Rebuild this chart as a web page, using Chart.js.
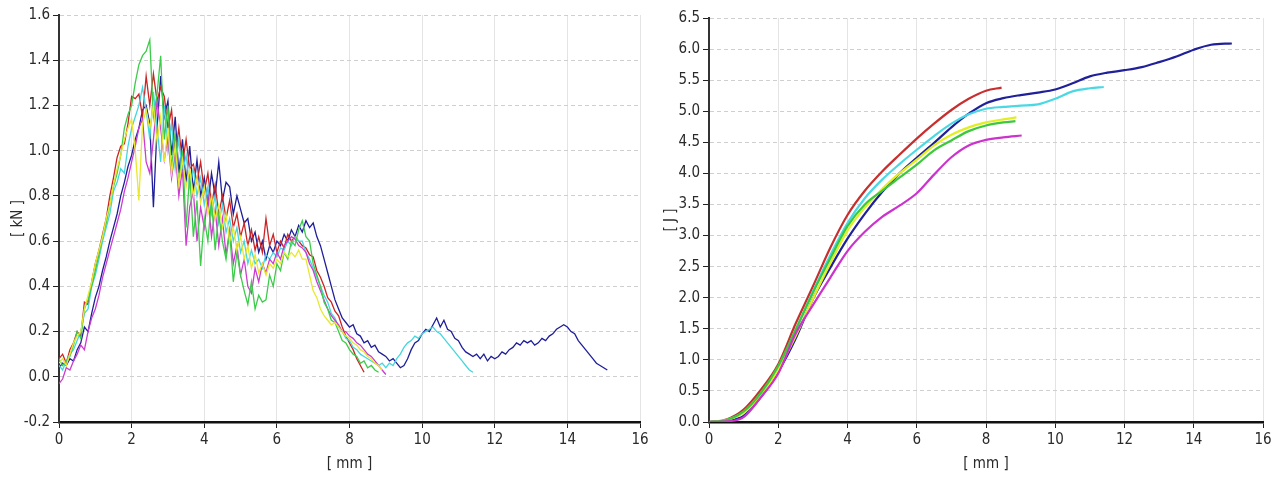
<!DOCTYPE html>
<html>
<head>
<meta charset="utf-8">
<script src="https://cdn.jsdelivr.net/npm/chart.js@4.4.1/dist/chart.umd.min.js"></script>
<style>
  html, body { margin: 0; padding: 0; background: #fff; }
  #wrap { position: relative; width: 1286px; height: 482px; }
  canvas { position: absolute; top: 0; }
  #force { left: 0; }
  #energy { left: 645px; }
</style>
</head>
<body>
<div id="wrap">
  <canvas id="force" width="652" height="482"></canvas>
  <canvas id="energy" width="641" height="482"></canvas>
</div>
<script>
// ---- force / displacement, one reading every 0.1 mm ----
const displacement = [
  0.0, 0.1, 0.2, 0.3, 0.4, 0.5, 0.6, 0.7, 0.8, 0.9,
  1.0, 1.1, 1.2, 1.3, 1.4, 1.5, 1.6, 1.7, 1.8, 1.9,
  2.0, 2.1, 2.2, 2.3, 2.4, 2.5, 2.6, 2.7, 2.8, 2.9,
  3.0, 3.1, 3.2, 3.3, 3.4, 3.5, 3.6, 3.7, 3.8, 3.9,
  4.0, 4.1, 4.2, 4.3, 4.4, 4.5, 4.6, 4.7, 4.8, 4.9,
  5.0, 5.1, 5.2, 5.3, 5.4, 5.5, 5.6, 5.7, 5.8, 5.9,
  6.0, 6.1, 6.2, 6.3, 6.4, 6.5, 6.6, 6.7, 6.8, 6.9,
  7.0, 7.1, 7.2, 7.3, 7.4, 7.5, 7.6, 7.7, 7.8, 7.9,
  8.0, 8.1, 8.2, 8.3, 8.4, 8.5, 8.6, 8.7, 8.8, 8.9,
  9.0, 9.1, 9.2, 9.3, 9.4, 9.5, 9.6, 9.7, 9.8, 9.9,
  10.0, 10.1, 10.2, 10.3, 10.4, 10.5, 10.6, 10.7, 10.8, 10.9,
  11.0, 11.1, 11.2, 11.3, 11.4, 11.5, 11.6, 11.7, 11.8, 11.9,
  12.0, 12.1, 12.2, 12.3, 12.4, 12.5, 12.6, 12.7, 12.8, 12.9,
  13.0, 13.1, 13.2, 13.3, 13.4, 13.5, 13.6, 13.7, 13.8, 13.9,
  14.0, 14.1, 14.2, 14.3, 14.4, 14.5, 14.6, 14.7, 14.8, 14.9,
  15.0, 15.1
];

const forceNavy = [
  0.04, 0.06, 0.05, 0.08, 0.07, 0.12, 0.15, 0.22, 0.20, 0.28,
  0.35, 0.40, 0.47, 0.53, 0.60, 0.66, 0.72, 0.80, 0.86, 0.93,
  0.98, 1.05, 1.10, 1.18, 1.20, 1.12, 0.75, 1.10, 1.33, 1.15,
  1.22, 0.98, 1.15, 0.90, 1.05, 0.86, 1.02, 0.82, 0.96, 0.80,
  0.88, 0.76, 0.90, 0.80, 0.95, 0.78, 0.86, 0.84, 0.72, 0.80,
  0.74, 0.68, 0.70, 0.60, 0.64, 0.55, 0.60, 0.52, 0.58, 0.55,
  0.60, 0.58, 0.63, 0.60, 0.65, 0.62, 0.67, 0.64, 0.69, 0.66,
  0.68, 0.62, 0.58, 0.52, 0.46, 0.40, 0.34, 0.30, 0.26, 0.24,
  0.22, 0.23, 0.19, 0.18, 0.15, 0.16, 0.13, 0.14, 0.11, 0.10,
  0.09, 0.07, 0.08, 0.06, 0.04, 0.05, 0.08, 0.12, 0.15, 0.16,
  0.19, 0.21, 0.20, 0.23, 0.26, 0.22, 0.25, 0.21, 0.20, 0.17,
  0.16, 0.13, 0.11, 0.10, 0.09, 0.10, 0.08, 0.10, 0.07, 0.09,
  0.08, 0.09, 0.11, 0.10, 0.12, 0.13, 0.15, 0.14, 0.16, 0.15,
  0.16, 0.14, 0.15, 0.17, 0.16, 0.18, 0.19, 0.21, 0.22, 0.23,
  0.22, 0.20, 0.19, 0.16, 0.14, 0.12, 0.10, 0.08, 0.06, 0.05,
  0.04, 0.03
];

const forceCyan = [
  0.05, 0.03, 0.07, 0.10, 0.12, 0.16, 0.20, 0.28, 0.30, 0.40,
  0.45, 0.52, 0.60, 0.66, 0.72, 0.82, 0.86, 0.92, 0.90, 1.02,
  1.10, 1.15, 1.20, 1.28, 1.18, 1.05, 1.26, 1.10, 0.95, 1.20,
  1.00, 1.12, 0.92, 1.05, 0.90, 0.98, 0.84, 0.92, 0.80, 0.88,
  0.76, 0.84, 0.72, 0.80, 0.68, 0.76, 0.64, 0.70, 0.60, 0.66,
  0.55, 0.60, 0.50, 0.56, 0.50, 0.52, 0.48, 0.54, 0.52, 0.55,
  0.53, 0.57, 0.56, 0.60, 0.58, 0.62, 0.60, 0.60, 0.55, 0.52,
  0.48, 0.44, 0.40, 0.36, 0.33, 0.28, 0.26, 0.22, 0.20, 0.17,
  0.16, 0.13, 0.12, 0.10, 0.09, 0.08, 0.07, 0.06, 0.05, 0.06,
  0.04, 0.06, 0.05, 0.08, 0.10, 0.13, 0.15, 0.16, 0.18, 0.17,
  0.19, 0.20, 0.21, 0.22, 0.20, 0.19, 0.17, 0.15, 0.13, 0.11,
  0.09, 0.07, 0.05, 0.03, 0.02
];

const forceRed = [
  0.08, 0.10, 0.06, 0.12, 0.15, 0.20, 0.18, 0.33, 0.32, 0.42,
  0.50, 0.56, 0.63, 0.70, 0.80, 0.88, 0.97, 1.02, 1.03, 1.12,
  1.24, 1.23, 1.25, 1.15, 1.33, 1.20, 1.34, 1.22, 1.28, 1.24,
  1.10, 1.18, 0.98, 1.10, 0.94, 1.05, 0.92, 0.94, 0.86, 0.95,
  0.82, 0.90, 0.76, 0.85, 0.72, 0.80, 0.70, 0.78, 0.66, 0.72,
  0.62, 0.68, 0.58, 0.65, 0.56, 0.62, 0.55, 0.70, 0.58, 0.63,
  0.55, 0.60, 0.57, 0.63, 0.60, 0.62, 0.60, 0.58, 0.57, 0.54,
  0.53, 0.47, 0.44, 0.40, 0.35, 0.33, 0.29, 0.27, 0.22, 0.18,
  0.15, 0.12, 0.08, 0.05, 0.02
];

const forceGreen = [
  0.08, 0.05, 0.07, 0.09, 0.14, 0.20, 0.17, 0.30, 0.34, 0.40,
  0.47, 0.54, 0.62, 0.68, 0.76, 0.84, 0.90, 0.98, 1.10, 1.16,
  1.20, 1.30, 1.38, 1.42, 1.44, 1.49, 1.15, 1.25, 1.42, 1.05,
  1.20, 0.92, 1.08, 0.85, 1.00, 0.66, 0.90, 0.62, 0.78, 0.49,
  0.70, 0.60, 0.78, 0.56, 0.72, 0.60, 0.52, 0.64, 0.42, 0.55,
  0.45, 0.38, 0.32, 0.42, 0.30, 0.36, 0.33, 0.34, 0.45, 0.40,
  0.50, 0.47, 0.55, 0.52, 0.60, 0.58, 0.65, 0.69, 0.62, 0.60,
  0.50, 0.45, 0.40, 0.33, 0.30, 0.25, 0.24, 0.20, 0.16, 0.15,
  0.12, 0.10, 0.09, 0.06, 0.07, 0.04, 0.05, 0.03, 0.02
];

const forceYellow = [
  0.06, 0.08, 0.05, 0.10, 0.15, 0.18, 0.20, 0.30, 0.36, 0.42,
  0.50, 0.56, 0.62, 0.70, 0.76, 0.85, 0.92, 0.98, 1.05, 1.10,
  1.14, 1.00, 0.78, 1.12, 1.18, 1.10, 1.20, 1.04, 1.15, 0.95,
  1.10, 0.90, 1.02, 0.85, 0.96, 0.84, 0.92, 0.80, 0.88, 0.77,
  0.84, 0.72, 0.80, 0.70, 0.76, 0.66, 0.72, 0.60, 0.66, 0.56,
  0.62, 0.52, 0.58, 0.48, 0.54, 0.46, 0.50, 0.45, 0.50, 0.48,
  0.52, 0.50, 0.55, 0.53, 0.55, 0.53, 0.56, 0.52, 0.52, 0.45,
  0.38, 0.35, 0.30, 0.27, 0.25, 0.23, 0.24, 0.22, 0.20, 0.18,
  0.17, 0.15, 0.14, 0.12, 0.11, 0.09, 0.08, 0.06, 0.05, 0.03
];

const forceMagenta = [
  -0.03, -0.01, 0.04, 0.03, 0.07, 0.10, 0.14, 0.12, 0.20, 0.26,
  0.30, 0.36, 0.44, 0.50, 0.56, 0.62, 0.68, 0.74, 0.82, 0.88,
  0.95, 1.02, 1.10, 1.14, 0.95, 0.90, 1.05, 1.22, 1.10, 0.96,
  1.06, 0.88, 1.00, 0.80, 0.92, 0.58, 0.75, 0.82, 0.60, 0.75,
  0.66, 0.80, 0.62, 0.74, 0.58, 0.70, 0.54, 0.65, 0.50, 0.58,
  0.45, 0.52, 0.40, 0.37, 0.48, 0.42, 0.50, 0.46, 0.52, 0.50,
  0.55, 0.52, 0.58, 0.60, 0.62, 0.61, 0.58, 0.57, 0.55, 0.50,
  0.47, 0.42, 0.38, 0.34, 0.30, 0.27, 0.25, 0.23, 0.20, 0.20,
  0.18, 0.17, 0.15, 0.14, 0.12, 0.10, 0.09, 0.07, 0.05, 0.03,
  0.01
];

// ---- absorbed energy, one reading every 0.5 mm; last value sits at the curve's end point ----
const energyGrid = [
  0, 0.5, 1, 1.5, 2, 2.5, 3, 3.5, 4, 4.5, 5, 5.5, 6, 6.5, 7, 7.5,
  8, 8.5, 9, 9.5, 10, 10.5, 11, 11.5, 12, 12.5, 13, 13.5, 14, 14.5
];

const energyRed = [0, 0.04, 0.2, 0.52, 0.93, 1.58, 2.18, 2.8, 3.33, 3.72, 4.03, 4.3, 4.56, 4.8, 5.02, 5.2, 5.33, 5.38];
const energyRedEnd = 8.45;

const energyNavy = [0, 0.02, 0.1, 0.4, 0.81, 1.34, 1.98, 2.48, 2.95, 3.35, 3.7, 4.0, 4.25, 4.49, 4.74, 4.96, 5.13, 5.21,
  5.26, 5.3, 5.35, 5.45, 5.56, 5.62, 5.66, 5.71, 5.79, 5.88, 5.99, 6.07, 6.09];
const energyNavyEnd = 15.1;

const energyCyan = [0, 0.03, 0.16, 0.46, 0.88, 1.48, 2.1, 2.68, 3.2, 3.6, 3.9, 4.15, 4.38, 4.6, 4.8, 4.95, 5.04, 5.07,
  5.09, 5.11, 5.2, 5.32, 5.37, 5.39];
const energyCyanEnd = 11.4;

const energyGreen = [0, 0.03, 0.17, 0.47, 0.9, 1.48, 2.08, 2.63, 3.15, 3.5, 3.72, 3.93, 4.14, 4.37, 4.53, 4.68, 4.77, 4.82, 4.84];
const energyGreenEnd = 8.85;

const energyYellow = [0, 0.03, 0.15, 0.42, 0.84, 1.38, 1.98, 2.55, 3.08, 3.45, 3.75, 4.0, 4.22, 4.45, 4.62, 4.74, 4.82, 4.87, 4.9];
const energyYellowEnd = 8.88;

const energyMagenta = [0, 0.01, 0.08, 0.4, 0.78, 1.42, 1.88, 2.32, 2.75, 3.06, 3.3, 3.48, 3.68, 3.98, 4.26, 4.45, 4.54, 4.58, 4.61];
const energyMagentaEnd = 9.03;

// ---- drawing ----
const FONT = "'Liberation Sans Narrow', 'Arial Narrow', 'DejaVu Sans Condensed', sans-serif";
const TEXT = '#2a2a2a';

function xAxis() {
    return {
        type: 'linear', min: 0, max: 16,
        ticks: { stepSize: 2, color: TEXT, font: { family: FONT, size: 15 }, padding: 3, maxRotation: 0 },
        grid: { color: '#e4e4e4', tickColor: '#222', tickLength: 6 },
        border: { color: '#111', width: 2.5 },
        title: { display: true, text: '[ mm ]', color: TEXT, font: { family: FONT, size: 15 }, padding: { top: 0, bottom: 9 } },
        afterFit: s => { s.height = 60; }
    };
}

function yAxis(min, max, step, label, width, titlePad) {
    return {
        type: 'linear', min: min, max: max,
        ticks: {
            stepSize: step, color: TEXT, font: { family: FONT, size: 15 }, padding: 3,
            callback: v => (Math.abs(v) < 1e-9 ? 0 : v).toFixed(1)
        },
        grid: { color: '#cfcfcf', tickColor: '#222', tickLength: 6 },
        border: { color: '#333', width: 2, dash: [4, 3] },
        title: { display: true, text: label, color: TEXT, font: { family: FONT, size: 15 }, padding: { top: titlePad, bottom: 0 } },
        afterFit: s => { s.width = width; }
    };
}

function toPoints(values, xs, end) {
    return values.map((v, i) => ({ x: (end !== undefined && i === values.length - 1) ? end : xs[i], y: v }));
}

const forceSets = [
    { values: forceYellow, color: '#e8e82c' },
    { values: forceGreen, color: '#3ccc4a' },
    { values: forceMagenta, color: '#cc3ccf' },
    { values: forceCyan, color: '#45d6de' },
    { values: forceRed, color: '#cc2424' },
    { values: forceNavy, color: '#1e1e9a' }
];

new Chart(document.getElementById('force'), {
    type: 'line',
    data: {
        datasets: forceSets.map(s => ({
            data: toPoints(s.values, displacement),
            borderColor: s.color,
            borderWidth: 1.3,
            pointRadius: 0,
            tension: 0,
            fill: false
        }))
    },
    options: {
        responsive: false,
        animation: false,
        layout: { padding: { top: 15, right: 12, bottom: 0, left: 0 } },
        plugins: { legend: { display: false }, tooltip: { enabled: false } },
        scales: {
            x: xAxis(),
            y: yAxis(-0.2, 1.6, 0.2, '[ kN ]', 59, 9)
        }
    }
});

const energySets = [
    { values: energyMagenta, end: energyMagentaEnd, color: '#cc33cc' },
    { values: energyGreen, end: energyGreenEnd, color: '#3cc83c' },
    { values: energyYellow, end: energyYellowEnd, color: '#e2ee22' },
    { values: energyCyan, end: energyCyanEnd, color: '#4ad8e4' },
    { values: energyNavy, end: energyNavyEnd, color: '#20209a' },
    { values: energyRed, end: energyRedEnd, color: '#c82e2e' }
];

new Chart(document.getElementById('energy'), {
    type: 'line',
    data: {
        datasets: energySets.map(s => ({
            data: toPoints(s.values, energyGrid, s.end),
            borderColor: s.color,
            borderWidth: 2.2,
            pointRadius: 0,
            cubicInterpolationMode: 'monotone',
            fill: false
        }))
    },
    options: {
        responsive: false,
        animation: false,
        layout: { padding: { top: 18, right: 23, bottom: 0, left: 0 } },
        plugins: { legend: { display: false }, tooltip: { enabled: false } },
        scales: {
            x: xAxis(),
            y: yAxis(0, 6.5, 0.5, '[ J ]', 64, 17)
        }
    }
});
</script>
</body>
</html>
